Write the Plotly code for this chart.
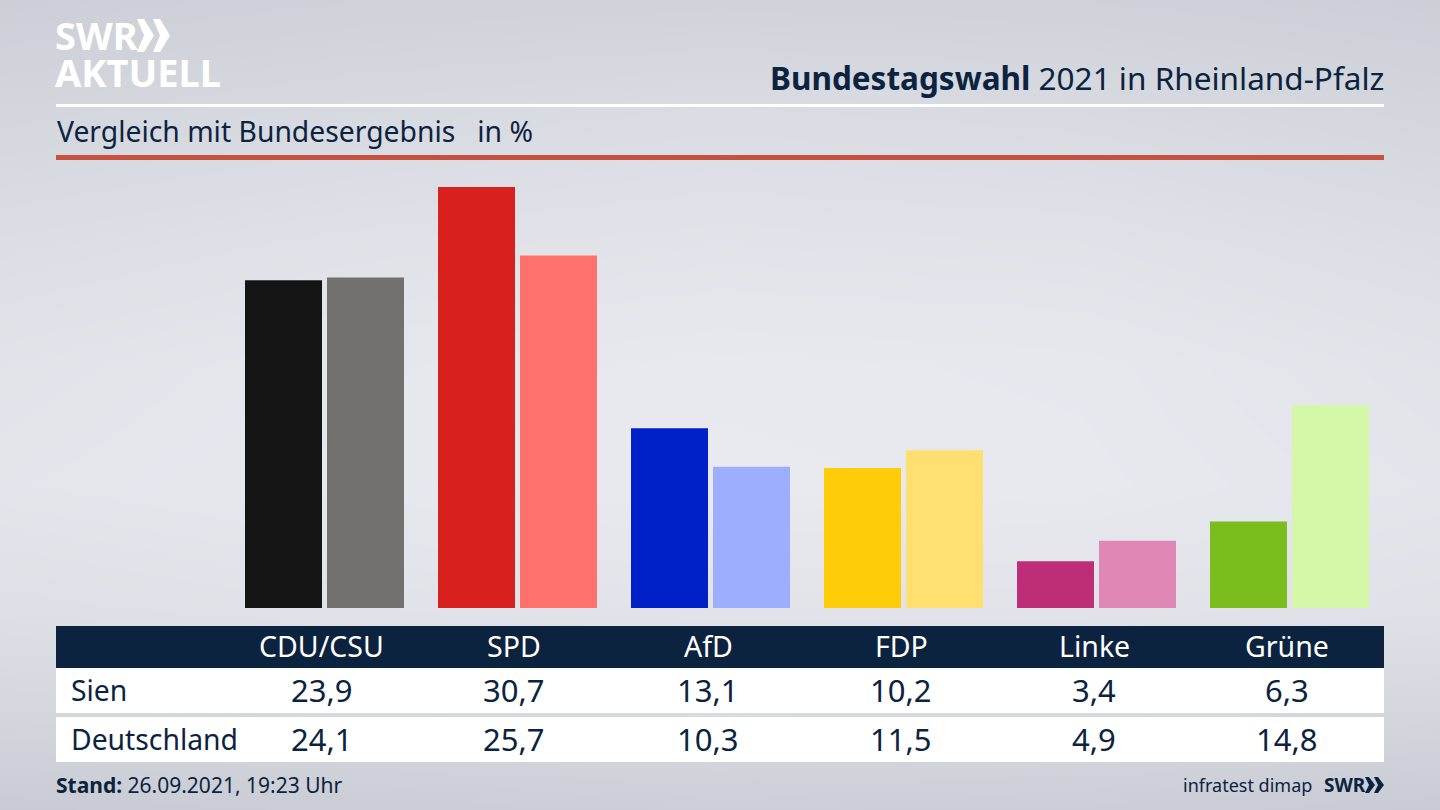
import plotly.graph_objects as go

parties = ['CDU/CSU', 'SPD', 'AfD', 'FDP', 'Linke', 'Grüne']
sien = [23.9, 30.7, 13.1, 10.2, 3.4, 6.3]
deutschland = [24.1, 25.7, 10.3, 11.5, 4.9, 14.8]
sien_labels = ['23,9', '30,7', '13,1', '10,2', '3,4', '6,3']
deutschland_labels = ['24,1', '25,7', '10,3', '11,5', '4,9', '14,8']
sien_colors = ['#141414', '#d8201f', '#0021c7', '#ffcc0a', '#bd2d78', '#7abd1c']
deutschland_colors = ['#72716e', '#ff716d', '#9eaeff', '#ffdf70', '#e087b5', '#d4f7a8']

# background lightness, rows run from bottom to top of the page
bg_x = [0, 0.25, 0.5, 0.75, 1]
bg_y = [0, 0.12, 0.25, 0.4, 0.55, 0.7, 0.85, 1]
bg_z = [[200, 202, 204, 203, 200],
        [212, 214, 216, 215, 212],
        [222, 225, 226, 226, 224],
        [228, 231, 233, 232, 228],
        [226, 230, 232, 231, 226],
        [220, 224, 226, 225, 220],
        [212, 216, 219, 217, 212],
        [204, 207, 208, 207, 204]]

W, H = 1440, 810
NAVY = '#0c2340'
FONT = 'Noto Sans'


def px(x):
    return x / W


def py(y):
    return 1 - y / H


fig = go.Figure()

fig.add_trace(go.Heatmap(x=bg_x, y=bg_y, z=bg_z, zsmooth='best', showscale=False,
                         colorscale=[[0, 'rgb(200,203,211)'], [1, 'rgb(233,234,240)']],
                         hoverinfo='skip', xaxis='x', yaxis='y'))
fig.add_trace(go.Bar(x=parties, y=sien, name='Sien',
                     marker=dict(color=sien_colors, line_width=0), xaxis='x2', yaxis='y2'))
fig.add_trace(go.Bar(x=parties, y=deutschland, name='Deutschland',
                     marker=dict(color=deutschland_colors, line_width=0), xaxis='x2', yaxis='y2'))

shapes = []


def rect(x0, y0, x1, y1, color):
    shapes.append(dict(type='rect', xref='paper', yref='paper', x0=px(x0), x1=px(x1),
                       y0=py(y1), y1=py(y0), fillcolor=color, line_width=0))


def chevron(x0, top, bottom, width, tip, notch, color):
    mid = (top + bottom) / 2
    shapes.append(dict(type='path', xref='paper', yref='paper', line_width=0, fillcolor=color,
                       path=f'M {px(x0)} {py(top)} L {px(x0 + width)} {py(top)} L {px(x0 + tip)} {py(mid)} '
                            f'L {px(x0 + width)} {py(bottom)} L {px(x0)} {py(bottom)} L {px(x0 + notch)} {py(mid)} Z'))


rect(56, 104, 1384, 107, 'white')
rect(56, 155, 1384, 160, '#c8503e')
rect(56, 626, 1384, 668, NAVY)
rect(56, 668, 1384, 713, 'white')
rect(56, 717, 1384, 762, 'white')

annotations = []


def label(x, y, text, size, color=NAVY, anchor='left', family=FONT, **kw):
    annotations.append(dict(xref='paper', yref='paper', x=px(x), y=py(y), text=text,
                            showarrow=False, xanchor=anchor, yanchor='middle',
                            borderpad=0, borderwidth=0,
                            font=dict(family=family, size=size, color=color), **kw))


label(1384, 77, '<b>Bundestagswahl</b> 2021 in Rheinland-Pfalz', 31.5, anchor='right')
label(57, 131, 'Vergleich mit Bundesergebnis   in %', 28.3)

# one text with two lines, the base size sets the line distance
logo_span = '<span style="font-size:38px"><b>{}</b></span>'
label(55, 53, logo_span.format('SWR') + '<br>' + logo_span.format('AKTUELL'), 28.4, 'white', align='left')
for x0 in (137, 153):
    chevron(x0, 19, 52, 7, 17, 7, 'white')

centers = [321.5, 514, 708, 901, 1094, 1287]
for cx, party, a, b in zip(centers, parties, sien_labels, deutschland_labels):
    label(cx, 646, party, 28.5, 'white', 'center')
    label(cx, 690, a, 31, anchor='center')
    label(cx, 739, b, 31, anchor='center')
label(71, 690, 'Sien', 28.3)
label(71, 739, 'Deutschland', 28.3)

label(56, 785, '<b>Stand:</b> 26.09.2021, 19:23 Uhr', 21)
label(1312, 785, 'infratest dimap', 18, anchor='right')
label(1324, 785, '<b>SWR</b>', 19)
for x0 in (1365, 1374):
    chevron(x0, 777, 793, 4, 10, 4, NAVY)

hidden = dict(visible=False, showgrid=False, zeroline=False, fixedrange=True)
px_per_unit = (608 - 187) / 30.7
spacing = 193
first_center = 324.5

fig.update_layout(
    width=W, height=H,
    margin=dict(l=0, r=0, t=0, b=0),
    paper_bgcolor='#dcdee4',
    plot_bgcolor='rgba(0,0,0,0)',
    showlegend=False,
    barmode='group', bargap=1 - 164 / 193, bargroupgap=5 / 82,
    shapes=shapes, annotations=annotations,
    xaxis=dict(hidden, range=[0, 1], domain=[0, 1]),
    yaxis=dict(hidden, range=[0, 1], domain=[0, 1]),
    xaxis2=dict(hidden, type='category', categoryorder='array', categoryarray=parties,
                range=[-first_center / spacing, (W - first_center) / spacing], domain=[0, 1], anchor='y2'),
    yaxis2=dict(hidden, range=[0, (608 - 165) / px_per_unit],
                domain=[(H - 608) / H, (H - 165) / H], anchor='x2'),
)

# page default margin would push the figure off the edges
fig.write_html("out.html", config=dict(displayModeBar=False),
               post_script="document.body.style.margin='0';document.body.style.overflow='hidden';")
